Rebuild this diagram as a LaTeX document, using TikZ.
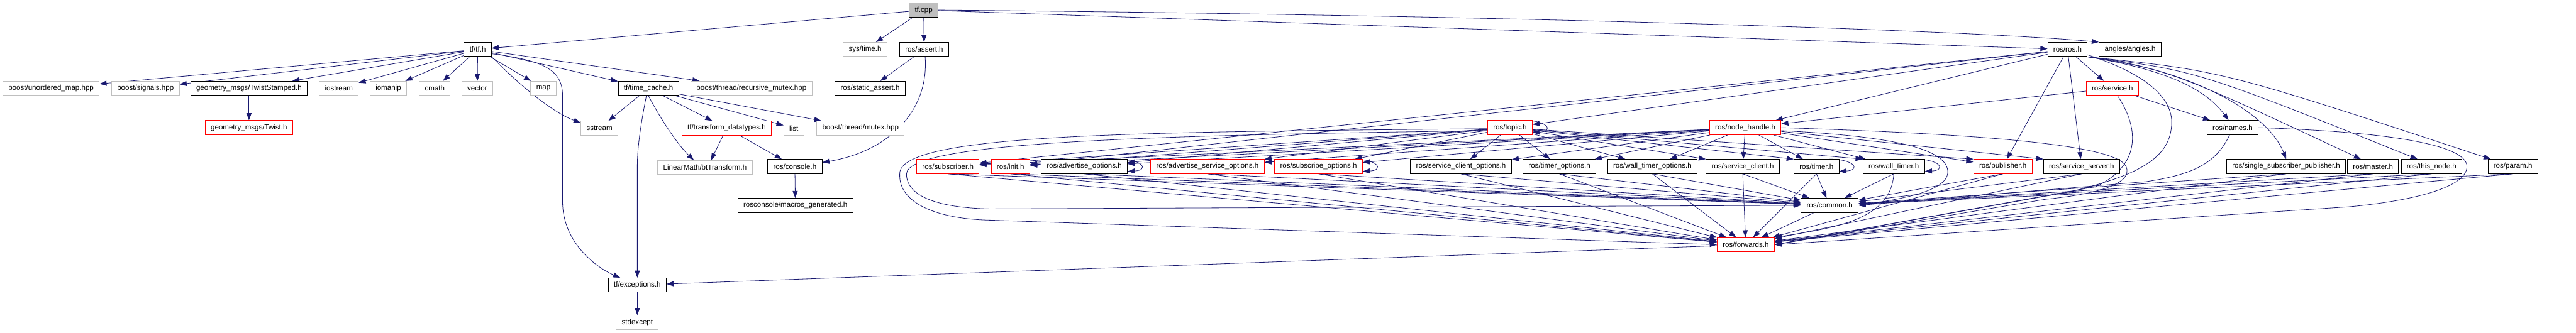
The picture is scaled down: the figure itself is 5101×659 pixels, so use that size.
\documentclass[tikz,border=0pt]{standalone}
\usepackage{fontspec}
\setmainfont{Liberation Sans}
\usetikzlibrary{arrows.meta}
\definecolor{EdgeClr}{HTML}{191970}
\definecolor{SysClr}{HTML}{BFBFBF}
\definecolor{CutClr}{HTML}{FF0000}
\pgfdeclarelayer{background}
\pgfsetlayers{background,main}

\begin{document}
\begin{tikzpicture}[x=0.5pt,y=-0.5pt,
  file/.style={draw=black,fill=white,line width=0.6pt,inner xsep=5.5pt,inner ysep=0pt,
    minimum height=14pt,font=\fontsize{7.2}{8}\selectfont},
  sysfile/.style={file,draw=SysClr},
  cutfile/.style={file,draw=CutClr},
  rootfile/.style={file,fill=SysClr},
  dep/.style={EdgeClr,line width=0.5pt,-{Triangle[length=7pt,width=5pt]}}]
\useasboundingbox (0,0) rectangle (5101,659);

% files
\node[rootfile] (cpp) at (1829,20) {tf.cpp};

\node[file] (tfh) at (946,98) {tf/tf.h};
\node[sysfile] (systime) at (1713,98) {sys/time.h};
\node[file] (assert) at (1830,98) {ros/assert.h};
\node[file] (rosh) at (4094,98) {ros/ros.h};
\node[file] (angles) at (4218,98) {angles/angles.h};

\node[sysfile] (umap) at (101,175) {boost/unordered\_map.hpp};
\node[sysfile] (signals) at (288,175) {boost/signals.hpp};
\node[file] (twiststamped) at (493,175) {geometry\_msgs/TwistStamped.h};
\node[sysfile] (iostream) at (671,175) {iostream};
\node[sysfile] (iomanip) at (769,175) {iomanip};
\node[sysfile] (cmath) at (861,175) {cmath};
\node[sysfile] (vector) at (945,175) {vector};
\node[sysfile] (map) at (1076,175) {map};
\node[file] (timecache) at (1284,175) {tf/time\_cache.h};
\node[sysfile] (recmutex) at (1488,175) {boost/thread/recursive\_mutex.hpp};
\node[file] (staticassert) at (1723,175) {ros/static\_assert.h};
\node[cutfile] (service) at (4183,175) {ros/service.h};

\node[cutfile] (twist) at (493,253) {geometry\_msgs/Twist.h};
\node[sysfile] (sstream) at (1187,254) {sstream};
\node[cutfile] (datatypes) at (1439,254) {tf/transform\_datatypes.h};
\node[sysfile] (list) at (1572,254) {list};
\node[sysfile] (mutex) at (1704,254) {boost/thread/mutex.hpp};
\node[cutfile] (topic) at (2990,253) {ros/topic.h};
\node[cutfile] (nodehandle) at (3456,253) {ros/node\_handle.h};
\node[file] (names) at (4421,253) {ros/names.h};

\node[sysfile] (bttransform) at (1396,332) {LinearMath/btTransform.h};
\node[file] (console) at (1574,330) {ros/console.h};
\node[cutfile] (subscriber) at (1877,330) {ros/subscriber.h};
\node[cutfile] (init) at (2001,330) {ros/init.h};
\node[file] (advopts) at (2147,330) {ros/advertise\_options.h};
\node[cutfile] (advsrvopts) at (2391,330) {ros/advertise\_service\_options.h};
\node[cutfile] (subopts) at (2611,330) {ros/subscribe\_options.h};
\node[file] (srvclientopts) at (2893,330) {ros/service\_client\_options.h};
\node[file] (timeropts) at (3088,330) {ros/timer\_options.h};
\node[file] (walltimeropts) at (3272,330) {ros/wall\_timer\_options.h};
\node[file] (srvclient) at (3451,330) {ros/service\_client.h};
\node[file] (timer) at (3597,330) {ros/timer.h};
\node[file] (walltimer) at (3750,330) {ros/wall\_timer.h};
\node[cutfile] (publisher) at (3966,330) {ros/publisher.h};
\node[file] (srvserver) at (4122,330) {ros/service\_server.h};
\node[file] (singlesubpub) at (4527,330) {ros/single\_subscriber\_publisher.h};
\node[file] (master) at (4699,330) {ros/master.h};
\node[file] (thisnode) at (4815,330) {ros/this\_node.h};
\node[file] (param) at (4976,330) {ros/param.h};

\node[file] (macros) at (1575,407) {rosconsole/macros\_generated.h};
\node[file] (common) at (3623,407) {ros/common.h};
\node[cutfile] (forwards) at (3457,485) {ros/forwards.h};
\node[file] (exceptions) at (1262,565) {tf/exceptions.h};
\node[sysfile] (stdexcept) at (1262,639) {stdexcept};

\begin{pgfonlayer}{background}
\fill[white] (0,0) rectangle (5101,659);

% tf.cpp
\foreach \t in {tfh,systime,assert,rosh} \draw[dep] (cpp) -- (\t);
\draw[dep] (cpp.east) .. controls (3000,30) and (3900,60) .. (angles.north west);

% tf/tf.h
\foreach \t in {umap,signals,twiststamped,iostream,iomanip,cmath,vector,map,timecache,recmutex}
  \draw[dep] (tfh) -- (\t);
\draw[dep] (tfh.south east) .. controls (1040,180) and (1100,225) .. ([yshift=-2pt]sstream.north west);
\draw[dep] ([yshift=3pt]tfh.south east) .. controls (1080,120) and (1114,140) .. (1114,190)
  -- (1114,400) .. controls (1114,480) and (1180,530) .. ([xshift=-17pt]exceptions.north);
\draw[dep] (twiststamped) -- (twist);

% tf/time_cache.h
\foreach \t in {sstream,datatypes,list,mutex} \draw[dep] (timecache) -- (\t);
\draw[dep] ([xshift=-2pt]timecache.south) .. controls (1270,240) and (1262,290) .. (1262,330) -- (exceptions);
\draw[dep] (timecache.south) .. controls (1310,240) and (1345,290) .. ([xshift=-11pt]bttransform.north);
\draw[dep] (datatypes) -- ([xshift=6pt]bttransform.north);
\draw[dep] (datatypes) -- (console);

% ros/assert.h
\draw[dep] (assert) -- (staticassert);
\draw[dep] ([xshift=1pt]assert.south) .. controls (1840,220) and (1760,300) .. ([yshift=4pt]console.east);
\draw[dep] (console) -- (macros);
\draw[dep] (exceptions) -- (stdexcept);

% ros/ros.h
\foreach \t in {topic,nodehandle,subscriber,init,publisher,srvserver,service} \draw[dep] (rosh) -- (\t);
\draw[dep] (rosh.south east) .. controls (4300,140) and (4370,180) .. ([xshift=-4pt]names.north);
\draw[dep] (rosh.south east) .. controls (4330,135) and (4490,220) .. (singlesubpub.north);
\draw[dep] (rosh.south east) .. controls (4300,140) .. ([xshift=-12pt]master.north);
\draw[dep] (rosh.south east) .. controls (4350,140) .. ([xshift=-14pt]thisnode.north);
\draw[dep] (rosh.south east) .. controls (4400,140) .. ([xshift=3pt]param.north west);
\draw[dep] ([yshift=2pt]rosh.south east) .. controls (4260,150) and (4305,200) .. (4300,250)
  .. controls (4295,320) and (4220,350) .. (4100,380) -- (forwards.east);

% ros/service.h, ros/names.h
\draw[dep] (service) -- (nodehandle);
\draw[dep] (service) -- (names);
\draw[dep] ([xshift=5pt]service.south) .. controls (4240,260) and (4235,330) .. (4150,370) -- (forwards.east);
\draw[dep] ([xshift=-3pt]names.south) .. controls (4390,320) and (4350,345) .. (4250,360) -- (common.east);
\draw[dep] (names.east) .. controls (4750,262) and (4885,290) .. (4885,330)
  .. controls (4885,375) and (4760,400) .. (4650,410) -- (forwards.east);

% ros/topic.h, ros/node_handle.h
\foreach \t in {subscriber,init,advopts,advsrvopts,subopts,srvclientopts,timeropts,walltimeropts} {
  \draw[dep] (topic) -- (\t);
  \draw[dep] (nodehandle) -- (\t);
}
\foreach \t in {srvclient,timer,walltimer,publisher} {
  \draw[dep] (topic) -- (\t.north west);
  \draw[dep] (nodehandle) -- (\t);
}
\draw[dep] (nodehandle) -- (srvserver.north west);
\draw[dep] ([yshift=-1pt]topic.west) .. controls (2300,262) and (1800,262) .. (1782,340)
  .. controls (1775,400) and (1850,432) .. (1950,436) -- (forwards.west);
\draw[dep] ([yshift=-3pt]topic.west) .. controls (2300,268) and (1795,280) .. (1795,345)
  .. controls (1795,390) and (1860,412) .. (1960,414) -- (common.west);
\draw[dep] (nodehandle.east) .. controls (3900,265) and (4190,285) .. (4210,330)
  .. controls (4225,365) and (4150,385) .. (4050,395) -- (forwards.east);
\draw[dep] ([yshift=-3pt]nodehandle.east) .. controls (3750,270) and (3855,295) .. (3857,340)
  .. controls (3858,380) and (3760,395) .. (common.east);

% self loops
\foreach \n in {topic,advopts,subopts,timer,walltimer}
  \draw[dep] ([xshift=-10pt]\n.north east) .. controls +(26pt,0pt) and +(21pt,1pt) .. ([yshift=2.5pt]\n.south east);

% down to ros/common.h and ros/forwards.h
\foreach \n in {subscriber,init,advopts,advsrvopts,subopts,srvclientopts,timeropts,walltimeropts,
    srvclient,timer,walltimer,publisher,srvserver,singlesubpub,master,thisnode,param}
  \draw[dep] (\n.south) -- (common);
\foreach \n in {subscriber,init,advopts,advsrvopts,subopts,srvclientopts,timeropts,walltimeropts,
    srvclient,timer,publisher,srvserver,singlesubpub,master,thisnode,param}
  \draw[dep] (\n.south) -- (forwards);
\draw[dep] (walltimer.south) .. controls (3745,430) and (3650,450) .. (forwards.north east);
\draw[dep] (common) -- (forwards);
\draw[dep] (forwards) -- (exceptions);
\end{pgfonlayer}
\end{tikzpicture}
\end{document}
